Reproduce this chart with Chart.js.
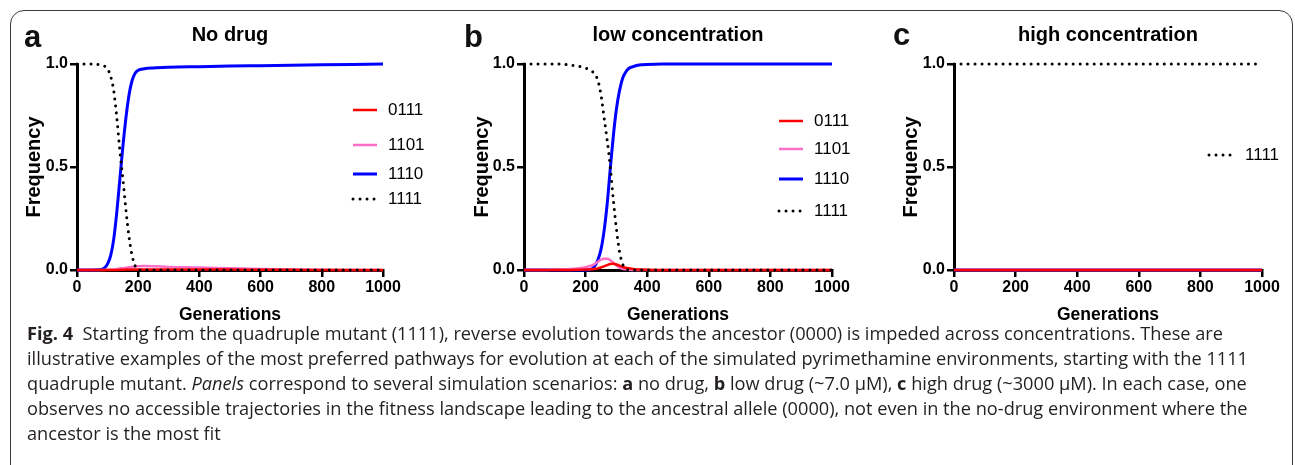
<!DOCTYPE html>
<html>
<head>
<meta charset="utf-8">
<script src="https://cdn.jsdelivr.net/npm/chart.js@4.4.0/dist/chart.umd.min.js"></script>
<style>
  body { margin: 0; width: 1295px; height: 465px; overflow: hidden; position: relative; background: #fff;
         font-family: "Liberation Sans", Arial, sans-serif; }
  #frame { position: absolute; left: 10px; top: 10px; width: 1283px; height: 520px; box-sizing: border-box;
           border: 1.3px solid #3a3a3a; border-radius: 14px; }
  canvas { position: absolute; top: 0; }
  .tag { position: absolute; font: bold 31px "Liberation Sans", Arial, sans-serif; line-height: 30px; color: #111; }
  #caption { position: absolute; left: 27px; top: 320px; font: 18.5px "Open Sans", sans-serif; line-height: 25px;
             color: #231f20; white-space: nowrap; transform-origin: 0 0; }
</style>
</head>
<body>
<div id="frame"></div>

<canvas id="panelA" width="440" height="335" style="left:0px"></canvas>
<canvas id="panelB" width="430" height="335" style="left:440px"></canvas>
<canvas id="panelC" width="425" height="335" style="left:870px"></canvas>

<div class="tag" style="left:24px; top:22px">a</div>
<div class="tag" style="left:464px; top:22px">b</div>
<div class="tag" style="left:893px; top:20px">c</div>

<div id="caption">
  <div id="capLine1"><b>Fig. 4</b>&nbsp; Starting from the quadruple mutant (1111), reverse evolution towards the ancestor (0000) is impeded across concentrations. These are</div>
  <div>illustrative examples of the most preferred pathways for evolution at each of the simulated pyrimethamine environments, starting with the 1111</div>
  <div>quadruple mutant. <i>Panels</i> correspond to several simulation scenarios: <b>a</b> no drug, <b>b</b> low drug (~7.0 μM), <b>c</b> high drug (~3000 μM). In each case, one</div>
  <div>observes no accessible trajectories in the fitness landscape leading to the ancestral allele (0000), not even in the no-drug environment where the</div>
  <div>ancestor is the most fit</div>
</div>

<script>
// ================= data =================
var genotypes = ['0111', '1101', '1110', '1111'];
var xTicks = [0, 200, 400, 600, 800, 1000];
var yTicks = [0, 0.5, 1.0];

// ---- panel a : no drug ----
var gensA = [0, 50, 80, 90, 100, 110, 120, 130, 140, 150, 160, 170, 180, 190, 200, 220, 250, 300, 400, 500, 600, 700, 800, 900, 1000];
var a0111 = [0, 0, 0, 0, 0, 0, 0, 0, 0.001, 0.001, 0.002, 0.002, 0.003, 0.003, 0.003, 0.003, 0.003, 0.003, 0.002, 0.002, 0.001, 0.001, 0, 0, 0];
var a1101 = [0, 0, 0, 0, 0.001, 0.002, 0.003, 0.005, 0.007, 0.009, 0.011, 0.013, 0.015, 0.017, 0.018, 0.019, 0.018, 0.015, 0.012, 0.008, 0.005, 0.003, 0.001, 0, 0];
var a1110 = [0, 0, 0.002, 0.01, 0.03, 0.07, 0.15, 0.28, 0.44, 0.6, 0.74, 0.85, 0.92, 0.955, 0.97, 0.977, 0.981, 0.984, 0.987, 0.99, 0.992, 0.994, 0.996, 0.998, 1.0];
var a1111 = [1, 1, 0.995, 0.99, 0.975, 0.94, 0.87, 0.74, 0.58, 0.44, 0.29, 0.16, 0.07, 0.02, 0, 0, 0, 0, 0, 0, 0, 0, 0, 0, 0];

// ---- panel b : low concentration ----
var gensB = [0, 50, 100, 150, 200, 220, 230, 240, 250, 260, 270, 280, 290, 300, 310, 320, 330, 340, 360, 380, 400, 450, 500, 600, 800, 1000];
var b0111 = [0, 0, 0, 0, 0.002, 0.004, 0.006, 0.008, 0.012, 0.018, 0.024, 0.029, 0.03, 0.027, 0.021, 0.015, 0.011, 0.008, 0.004, 0.002, 0.001, 0, 0, 0, 0, 0];
var b1101 = [0, 0, 0.002, 0.005, 0.014, 0.022, 0.03, 0.04, 0.05, 0.055, 0.055, 0.048, 0.035, 0.022, 0.012, 0.006, 0.003, 0.001, 0, 0, 0, 0, 0, 0, 0, 0];
var b1110 = [0, 0, 0, 0, 0, 0.005, 0.02, 0.05, 0.1, 0.19, 0.32, 0.49, 0.65, 0.78, 0.87, 0.93, 0.96, 0.978, 0.99, 0.996, 0.998, 1, 1, 1, 1, 1];
var b1111 = [1, 1, 1, 0.995, 0.98, 0.965, 0.95, 0.92, 0.85, 0.74, 0.63, 0.5, 0.34, 0.2, 0.09, 0.03, 0.008, 0, 0, 0, 0, 0, 0, 0, 0, 0];

// ---- panel c : high concentration ----
var gensC = [0, 1000];
var c0111 = [0, 0];
var c1101 = [0, 0];
var c1110 = [0, 0];
var c1111 = [1, 1];

// ================= styles =================
var lineStyle = {
    '0111': { color: '#ff0000', width: 2.5, dash: [], cap: 'butt', order: 1 },
    '1101': { color: '#ff6ec7', width: 2.5, dash: [], cap: 'butt', order: 2 },
    '1110': { color: '#0000ff', width: 3, dash: [], cap: 'butt', order: 3 },
    '1111': { color: '#000000', width: 3, dash: [0.01, 7], cap: 'round', order: 0 }
};

// legend drawn at fixed spots next to the plot, like the original figure
var keyLegend = {
    id: 'keyLegend',
    afterDraw: function (chart, args, o) {
        var ctx = chart.ctx;
        ctx.save();
        chart.data.datasets.forEach(function (ds, i) {
            var y = o.rows[i];
            if (y == null) return;
            ctx.beginPath();
            ctx.strokeStyle = ds.borderColor;
            ctx.lineWidth = ds.borderWidth;
            ctx.lineCap = ds.borderCapStyle;
            ctx.setLineDash(ds.borderDash);
            ctx.moveTo(o.x, y);
            ctx.lineTo(o.x + o.len, y);
            ctx.stroke();
            ctx.setLineDash([]);
            ctx.fillStyle = '#000';
            ctx.font = '17px "Liberation Sans", Arial, sans-serif';
            ctx.textBaseline = 'middle';
            ctx.fillText(ds.label, o.x + o.len + o.gap, y);
        });
        ctx.restore();
    }
};

function makeDatasets(gens, series) {
    return genotypes.map(function (g, i) {
        var st = lineStyle[g];
        return {
            label: g,
            data: gens.map(function (x, j) { return { x: x, y: series[i][j] }; }),
            borderColor: st.color,
            borderWidth: st.width,
            borderDash: st.dash,
            borderCapStyle: st.cap,
            pointRadius: 0,
            cubicInterpolationMode: 'monotone',
            order: st.order,
            clip: 6
        };
    });
}

function makePanel(id, title, gens, series, lay) {
    var tickFont = { family: '"Liberation Sans", Arial, sans-serif', size: 16, weight: 'bold' };
    return new Chart(document.getElementById(id), {
        type: 'line',
        data: { datasets: makeDatasets(gens, series) },
        plugins: [keyLegend],
        options: {
            responsive: false,
            animation: false,
            devicePixelRatio: 1,
            layout: { padding: { left: 0, right: lay.padRight, top: 0, bottom: 0 } },
            plugins: {
                legend: { display: false },
                tooltip: { enabled: false },
                title: {
                    display: true,
                    text: title,
                    fullSize: false,
                    color: '#000',
                    font: { family: '"Liberation Sans", Arial, sans-serif', size: 20, weight: 'bold', lineHeight: 1.2 },
                    padding: { top: 23, bottom: 17 }
                },
                keyLegend: lay.legend
            },
            scales: {
                x: {
                    type: 'linear',
                    min: 0,
                    max: 1000,
                    afterBuildTicks: function (s) { s.ticks = xTicks.map(function (v) { return { value: v }; }); },
                    afterFit: function (s) { s.height = 65; },
                    ticks: { color: '#000', font: tickFont, padding: 1, maxRotation: 0,
                             callback: function (v) { return String(v); } },
                    grid: { drawOnChartArea: false, color: '#000', lineWidth: 2.5, tickLength: 7 },
                    border: { color: '#000', width: 3 },
                    title: { display: true, text: 'Generations', color: '#000',
                             font: { family: '"Liberation Sans", Arial, sans-serif', size: 17.5, weight: 'bold', lineHeight: 1.2 },
                             padding: { top: 0, bottom: 9.5 } }
                },
                y: {
                    min: 0,
                    max: 1,
                    afterBuildTicks: function (s) { s.ticks = yTicks.map(function (v) { return { value: v }; }); },
                    afterFit: function (s) { s.width = lay.yWidth; },
                    ticks: { color: '#000', font: tickFont, padding: 2,
                             callback: function (v) { return v.toFixed(1); } },
                    grid: { drawOnChartArea: false, color: '#000', lineWidth: 2.5, tickLength: 7 },
                    border: { color: '#000', width: 3 },
                    title: { display: true, text: 'Frequency', color: '#000',
                             font: { family: '"Liberation Sans", Arial, sans-serif', size: 20, weight: 'bold', lineHeight: 1.2 },
                             padding: { top: lay.yTitlePad, bottom: 0 } }
                }
            }
        }
    });
}

makePanel('panelA', 'No drug', gensA, [a0111, a1101, a1110, a1111], {
    padRight: 57, yWidth: 77, yTitlePad: 22.5,
    legend: { x: 353, len: 24, gap: 11, rows: [110, 145, 174, 199] }
});
makePanel('panelB', 'low concentration', gensB, [b0111, b1101, b1110, b1111], {
    padRight: 38, yWidth: 84, yTitlePad: 30.5,
    legend: { x: 339, len: 24, gap: 11, rows: [121, 149, 179, 211] }
});
makePanel('panelC', 'high concentration', gensC, [c0111, c1101, c1110, c1111], {
    padRight: 33, yWidth: 84, yTitlePad: 29.5,
    legend: { x: 339, len: 22, gap: 14, rows: [null, null, null, 155] }
});

// squeeze the caption so its first line ends where the original does
var cap = document.getElementById('caption');
var line1 = document.getElementById('capLine1');
var range = document.createRange();
range.selectNodeContents(line1);
var w1 = range.getBoundingClientRect().width;
cap.style.transform = 'scaleX(' + (1196 / w1) + ')';
</script>
</body>
</html>
